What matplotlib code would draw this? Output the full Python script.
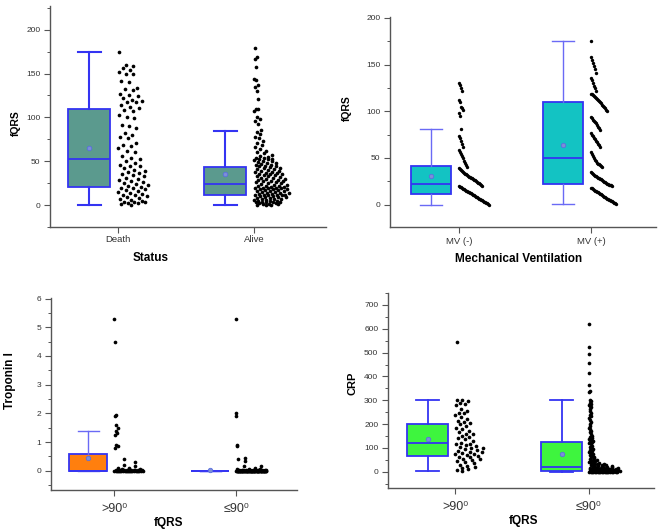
import matplotlib.pyplot as plt
import numpy as np
from matplotlib.ticker import MultipleLocator

plt.rcParams["font.family"] = ["Liberation Sans", "DejaVu Sans"]

# ---- panel 1: fQRS by status ----
status_labels = ["Death", "Alive"]
death_fqrs = [
    175, 160, 159, 156, 154, 152, 150, 149, 141, 140, 134, 132, 131, 127, 126,
    124, 122, 120, 119, 118, 117, 114, 112, 111,
    108, 107, 103, 101, 99, 91, 90, 88, 82, 80, 78, 76, 71, 69, 67, 65, 62, 60,
    56, 54,
    52, 50, 48, 46, 45, 44, 42, 40, 39, 38, 37, 35, 34, 33, 31, 30, 29, 27, 26,
    25, 24, 23, 22,
    21, 20, 19, 18, 17, 16, 15, 14, 13, 12, 11, 10, 9, 8, 7, 6, 5, 4, 3, 3, 2,
    2, 1, 0,
]
alive_fqrs = [
    179, 169, 167, 158, 144, 143, 137, 135, 130, 121, 110, 109, 107, 101, 98, 96,
    93, 86, 83, 81, 78, 76, 73, 71, 69, 66, 64, 62, 60, 59, 57, 56,
    55, 54, 54, 53, 52, 52, 51, 50, 50, 49, 48, 48, 47, 46, 46, 45, 44, 44, 43,
    42, 42, 41, 41, 40, 39, 39, 38, 38, 37, 37, 36, 35, 35, 34, 34, 33, 33, 32,
    31, 31, 30, 30, 29, 29, 28, 27, 27, 26, 26, 25, 25, 24,
    23, 23, 22, 22, 22, 21, 21, 20, 20, 20, 19, 19, 18, 18, 18, 17, 17, 16, 16,
    16, 15, 15, 14, 14, 14, 13, 13, 12, 12, 12, 11, 11, 11,
    10, 10, 9, 9, 9, 8, 8, 7, 7, 7, 6, 6, 5, 5, 5, 4, 4, 3, 3, 3, 2, 2, 1, 1, 1,
    0, 0, 0,
]
# box stats: whislo, q1, median, q3, whishi, mean
status_box = [(0, 21, 52, 110, 175, 65), (0, 11, 24, 43, 84, 35)]

# ---- panel 2: fQRS by mechanical ventilation ----
mv_labels = ["MV (-)", "MV (+)"]
mv_neg_fqrs = [
    19.5, 19, 18.5, 18, 17, 16.5, 16, 15, 14.5, 14, 13, 12.5, 12, 11, 10.5, 10,
    9, 8.5, 8, 7, 6.5, 6, 5, 4.5, 4, 3, 2.5, 2, 1.5, 1, 0,
    39, 38, 37, 36, 35, 34, 33, 32.5, 32, 31, 30, 29.5, 29, 28, 27, 26.5, 26, 25,
    24, 23.5, 23, 22, 21, 20,
    58, 56, 54, 52, 50, 47, 45, 42, 40,
    74, 71, 68, 65, 62,
    98, 95, 81,
    112, 110, 105, 103, 101,
    130, 128, 125, 122,
]
mv_pos_fqrs = [
    18, 17.5, 17, 16, 15, 14.5, 14, 13, 12, 11.5, 11, 10, 9, 8.5, 8, 7, 6, 5.5,
    5, 4.5, 4, 3.5, 3, 2, 1.5, 1,
    35, 34, 33, 32, 31, 30.5, 30, 29, 28, 27.5, 27, 26, 25, 24.5, 24, 23, 22.5,
    22, 21.5, 21, 20.5, 20,
    56, 54, 52, 50, 48, 47, 45, 44, 43, 42, 41, 40,
    77, 75, 73, 71, 70, 68, 67, 65, 64, 62,
    94, 93, 91, 90, 88, 87, 85, 83, 82, 80,
    119, 118, 117, 116, 115, 114, 113, 112, 111, 110, 109, 107, 106, 105, 103,
    101, 100,
    136, 133, 130, 127, 125, 122,
    158, 155, 152, 148, 145, 141,
    175,
]
mv_box = [(0, 11, 22, 41, 81, 31), (1, 22, 50, 110, 175, 64)]

# ---- panel 3: troponin I by fQRS axis ----
axis_labels = [">90\u2070", "\u226490\u2070"]
trop_wide = [
    5.3, 4.5, 1.95, 1.92, 1.6, 1.5, 1.4, 1.3, 1.25, 0.9, 0.85, 0.8, 0.4, 0.3,
    0.2, 0.15, 0.1, 0.1, 0.05, 0.05,
    0.04, 0.04, 0.03, 0.03, 0.03, 0.02, 0.02, 0.02, 0.02, 0.01, 0.01, 0.01, 0.01,
    0.01, 0.01, 0.0, 0.0, 0.0, 0.0, 0.0, 0.0, 0.0, 0.0, 0.0, 0.0, 0.0, 0.0, 0.0,
    0.0, 0.0, 0.0, 0.0,
]
trop_narrow = [
    5.3, 2.0, 1.9, 0.9, 0.85, 0.45, 0.4, 0.35, 0.15, 0.15, 0.1,
    0.06, 0.05, 0.05, 0.04, 0.04, 0.04, 0.03, 0.03, 0.03, 0.03, 0.02, 0.02, 0.02,
    0.02, 0.02, 0.02, 0.01, 0.01, 0.01, 0.01, 0.01, 0.01, 0.01, 0.01, 0.01, 0.01,
    0.0, 0.0, 0.0, 0.0, 0.0, 0.0, 0.0, 0.0, 0.0, 0.0, 0.0, 0.0, 0.0, 0.0, 0.0,
    0.0, 0.0, 0.0, 0.0, 0.0, 0.0, 0.0, 0.0, 0.0, 0.0, 0.0, 0.0, 0.0, 0.0, 0.0,
    0.0, 0.0, 0.0, 0.0, 0.0, 0.0, 0.0, 0.0, 0.0, 0.0, 0.0, 0.0, 0.0, 0.0, 0.0,
    0.0, 0.0, 0.0, 0.0, 0.0, 0.0, 0.0, 0.0, 0.0, 0.0, 0.0, 0.0, 0.0, 0.0, 0.0,
]
trop_box = [(0, 0, 0, 0.6, 1.4, 0.45), (0, 0, 0, 0, 0, 0.04)]

# ---- panel 4: CRP by fQRS axis ----
crp_wide = [
    545, 303, 300, 296, 287, 284, 280, 262, 255, 248, 245, 240, 230, 222, 215,
    210, 206, 199, 192, 185, 178, 170, 165, 160, 157, 150, 146, 140, 136, 130,
    122, 118, 115, 112, 108, 104, 100, 98, 94, 90, 87, 85, 82, 78, 75, 73, 70,
    66, 62, 60, 55, 52, 48, 45, 40, 35, 30, 24, 20, 17, 12, 8, 5,
]
crp_narrow = [
    620, 522, 495, 458, 415, 365, 340, 335,
    300, 296, 290, 285, 280, 275, 270, 262, 255, 248, 240, 232, 225, 218, 210,
    200, 192, 185, 178, 170, 165, 158, 150, 145, 140, 136, 132, 130, 128, 126,
    120, 115, 110, 105, 100, 96, 92, 88, 84, 80, 76, 72, 68, 64, 60, 56, 52, 50,
    48, 46, 44, 42, 40, 38, 36, 34, 33, 32, 30, 29, 28, 27, 26, 25, 24, 23, 22,
    21, 20, 20, 19, 18, 18, 17, 16, 15, 15, 14, 13, 13, 12, 12, 11, 11, 10, 10,
    9, 9, 8, 8, 7, 7, 6, 6, 6, 5, 5,
    5, 5, 4, 4, 4, 4, 4, 3, 3, 3, 3, 3, 3, 2, 2, 2, 2, 2, 2, 2, 1, 1, 1, 1, 1, 1,
    1, 1, 0, 0, 0, 0, 0, 0, 0, 0, 0, 0, 0, 0,
]
crp_box = [(5, 65, 122, 200, 302, 137), (0, 3, 22, 125, 302, 75)]

EDGE = "#3434f2"
AXIS = "#555555"


def density_offsets(values, width, bw, power=1.0):
    # one-sided jitter whose spread follows the local density of points
    v = np.asarray(values, float)
    dens = np.exp(-0.5 * ((v[:, None] - v[None, :]) / bw) ** 2).sum(axis=1)
    dens = (dens / dens.max()) ** power
    u = (0.5 + np.arange(len(v)) * 0.618034) % 1.0
    off = np.empty(len(v))
    off[np.argsort(v)] = u
    return off * width * dens


def bin_offsets(values, bin_size, step):
    # points of each value bin laid side by side, highest on the left
    v = np.asarray(values, float)
    off = np.zeros(len(v))
    idx = np.floor(v / bin_size)
    for b in np.unique(idx):
        members = np.where(idx == b)[0]
        members = members[np.argsort(-v[members])]
        off[members] = np.arange(len(members)) * step
    return off


def draw_box(ax, pos, stats, fill, whisker_color, whisker_lw, width):
    lo, q1, med, q3, hi, mean = stats
    ax.bxp(
        [dict(whislo=lo, q1=q1, med=med, q3=q3, whishi=hi, mean=mean, fliers=[])],
        positions=[pos],
        widths=width,
        capwidths=width * 0.55,
        patch_artist=True,
        showmeans=True,
        manage_ticks=False,
        boxprops=dict(facecolor=fill, edgecolor=EDGE, linewidth=1.3),
        medianprops=dict(color=EDGE, linewidth=1.3),
        whiskerprops=dict(color=whisker_color, linewidth=whisker_lw),
        capprops=dict(color=whisker_color, linewidth=whisker_lw),
        meanprops=dict(marker="o", markersize=3.2, markerfacecolor="#7d8fd6",
                       markeredgecolor="#5a6fe0", markeredgewidth=0.6),
    )


def style_axes(ax, xlim, ylim, major, minor, labels, tick_fs, tick_pad):
    ax.set_xlim(xlim)
    ax.set_ylim(ylim)
    for side in ["top", "right"]:
        ax.spines[side].set_visible(False)
    for side in ["left", "bottom"]:
        ax.spines[side].set_color(AXIS)
        ax.spines[side].set_linewidth(1.0)
    ax.yaxis.set_major_locator(MultipleLocator(major))
    ax.yaxis.set_minor_locator(MultipleLocator(minor))
    ax.set_xticks([1, 2], labels)
    ax.tick_params(direction="out", length=4, width=0.8, color=AXIS,
                   labelsize=6, labelcolor="#333333", pad=3)
    ax.tick_params(which="minor", direction="out", length=2, width=0.7,
                   color=AXIS)
    ax.tick_params(axis="x", labelsize=tick_fs, pad=tick_pad)


fig = plt.figure(figsize=(6.63, 5.32), dpi=100)

# panel 1
ax1 = fig.add_axes([0.0754, 0.5733, 0.4163, 0.4154])
style_axes(ax1, (0.5, 2.53), (-25, 227), 50, 25, status_labels, 6.8, 2)
for i, (vals, w, pw) in enumerate([(death_fqrs, 0.235, 0.5),
                                   (alive_fqrs, 0.26, 0.8)]):
    draw_box(ax1, i + 1 - 0.21, status_box[i], "#5b9a8e", EDGE, 1.5, 0.31)
    ax1.scatter(i + 1 + density_offsets(vals, w, 10, pw), vals, s=7,
                color="black", linewidths=0, zorder=3)
ax1.set_ylabel("fQRS", fontsize=7.5, fontweight="bold")
ax1.yaxis.set_label_coords(-0.105, 0.47)
ax1.set_xlabel("Status", fontsize=8.5, fontweight="bold")
ax1.xaxis.set_label_coords(0.366, -0.113)

# panel 2
ax2 = fig.add_axes([0.5882, 0.5733, 0.4012, 0.3947])
style_axes(ax2, (0.477, 2.49), (-24, 201), 50, 25, mv_labels, 6.8, 3)
for i, vals in enumerate([mv_neg_fqrs, mv_pos_fqrs]):
    draw_box(ax2, i + 1 - 0.215, mv_box[i], "#13c3c3", "#6a6af5", 1.0, 0.305)
    ax2.scatter(i + 1 + bin_offsets(vals, 20, 0.0076), vals, s=6,
                color="black", linewidths=0, zorder=3)
ax2.set_ylabel("fQRS", fontsize=7.5, fontweight="bold")
ax2.yaxis.set_label_coords(-0.143, 0.567)
ax2.set_xlabel("Mechanical Ventilation", fontsize=8.5, fontweight="bold")
ax2.xaxis.set_label_coords(0.485, -0.124)

# panel 3
ax3 = fig.add_axes([0.0769, 0.0789, 0.3710, 0.3609])
style_axes(ax3, (0.48, 2.5), (-0.67, 6.02), 1, 0.5, axis_labels, 9, 5)
for i, (vals, w) in enumerate([(trop_wide, 0.24), (trop_narrow, 0.25)]):
    fill = "#ff7f0e" if i == 0 else "none"
    draw_box(ax3, i + 1 - 0.213, trop_box[i], fill, "#6a6af5", 1.0, 0.31)
    ax3.scatter(i + 1 + density_offsets(vals, w, 0.3), vals, s=7,
                color="black", linewidths=0, zorder=3)
ax3.set_ylabel("Troponin I", fontsize=8.5, fontweight="bold")
ax3.yaxis.set_label_coords(-0.142, 0.568)
ax3.set_xlabel("fQRS", fontsize=8.5, fontweight="bold")
ax3.xaxis.set_label_coords(0.476, -0.141)

# panel 4
ax4 = fig.add_axes([0.5852, 0.0827, 0.4012, 0.3665])
style_axes(ax4, (0.5, 2.485), (-68, 750), 100, 50, axis_labels, 9, 5)
for i, (vals, w) in enumerate([(crp_wide, 0.23), (crp_narrow, 0.235)]):
    draw_box(ax4, i + 1 - 0.205, crp_box[i], "#3ef53e", EDGE, 1.3, 0.30)
    ax4.scatter(i + 1 + density_offsets(vals, w, 15), vals, s=7,
                color="black", linewidths=0, zorder=3)
ax4.set_ylabel("CRP", fontsize=8, fontweight="bold")
ax4.yaxis.set_label_coords(-0.113, 0.538)
ax4.set_xlabel("fQRS", fontsize=8.5, fontweight="bold")
ax4.xaxis.set_label_coords(0.508, -0.138)

fig.savefig("out.png", dpi=100)
